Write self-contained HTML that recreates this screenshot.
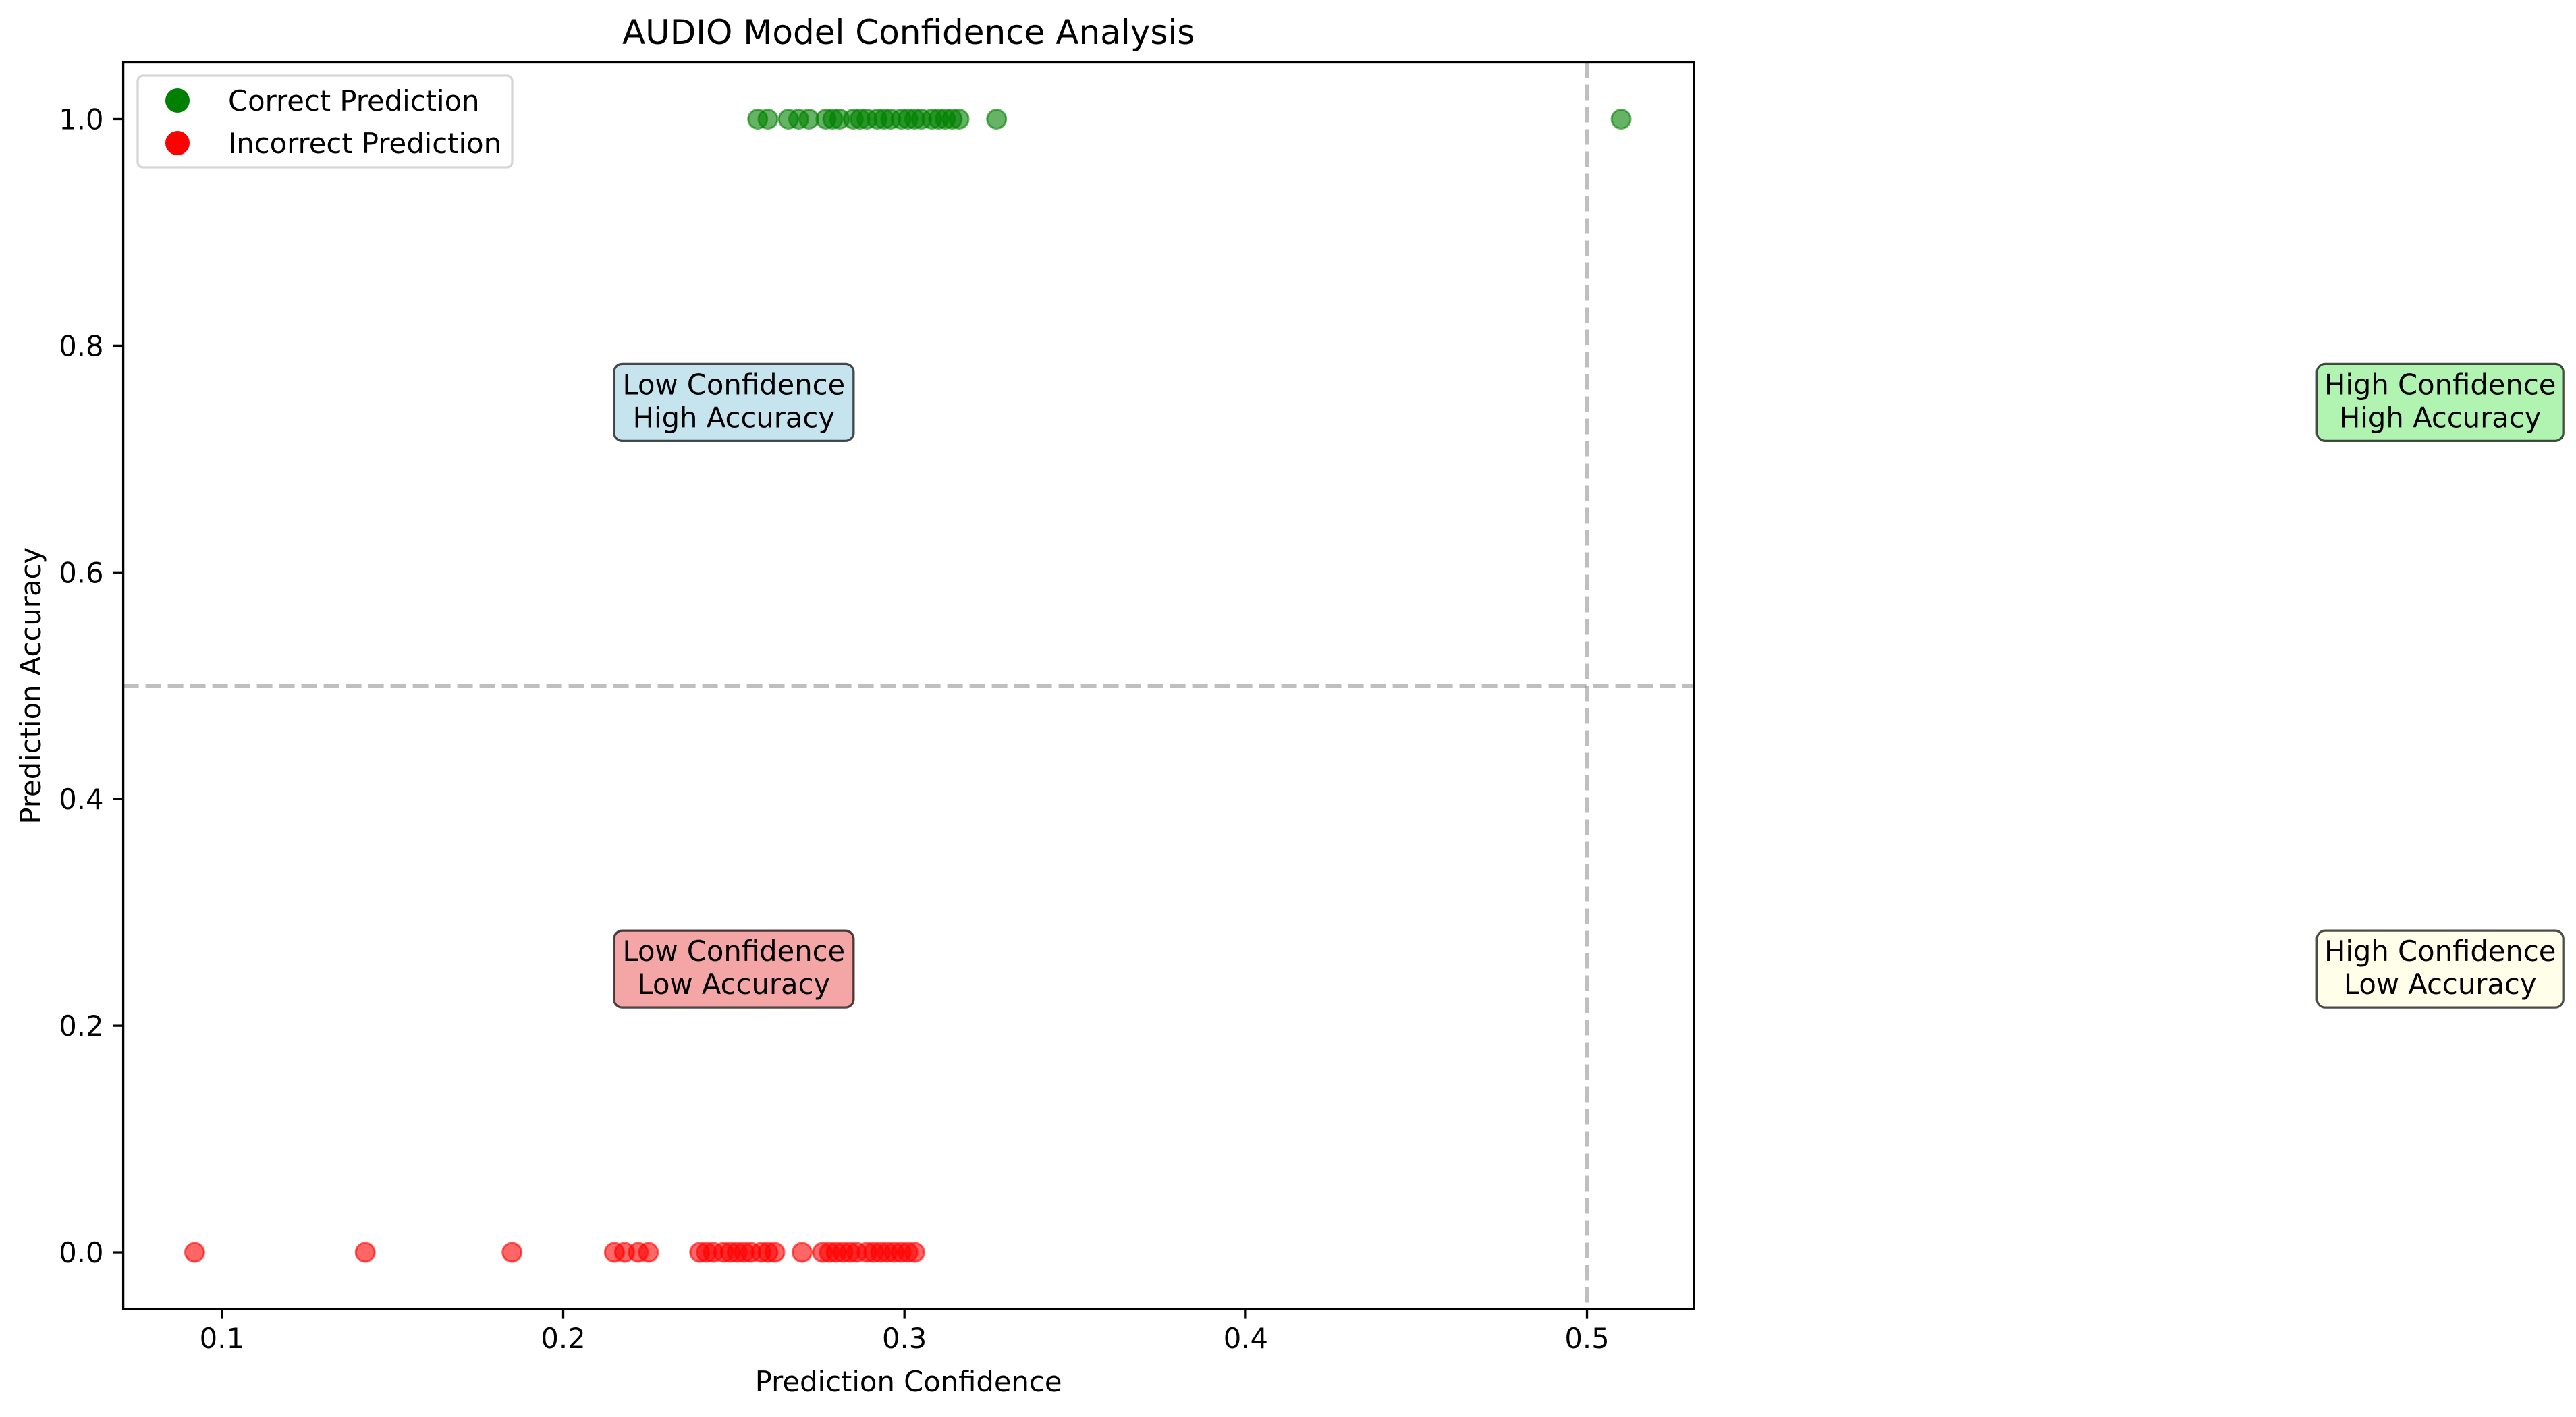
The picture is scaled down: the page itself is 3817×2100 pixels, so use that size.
<!DOCTYPE html>
<html><head><meta charset="utf-8"><style>
html,body{margin:0;padding:0;background:#fff;}
svg{display:block;font-family:"DejaVu Sans","Liberation Sans",sans-serif;}
</style></head><body>
<svg id="chart" width="3817" height="2100" viewBox="0 0 3817 2100" xmlns="http://www.w3.org/2000/svg">
<rect width="3817" height="2100" fill="#fff"/>
<g id="plot"></g>
</svg>
<script>
const correctConf = [0.257,0.260,0.266,0.269,0.272,0.277,0.279,0.281,0.285,0.287,0.289,0.292,0.294,0.296,0.299,0.301,0.303,0.305,0.308,0.310,0.312,0.314,0.316,0.327,0.510];
const incorrectConf = [0.092,0.142,0.185,0.215,0.218,0.222,0.225,0.240,0.242,0.244,0.247,0.249,0.251,0.253,0.255,0.258,0.260,0.262,0.270,0.276,0.278,0.280,0.282,0.284,0.286,0.289,0.291,0.293,0.295,0.297,0.299,0.301,0.303];
const xTicks = [0.1,0.2,0.3,0.4,0.5];
const yTicks = [0.0,0.2,0.4,0.6,0.8,1.0];
const xThreshold = 0.5;
const yThreshold = 0.5;

const NS="http://www.w3.org/2000/svg";
const L=182.6,R=2509.7,T=92.5,B=1940;
const xMin=0.07108,xMax=0.53128,yMin=-0.05,yMax=1.05;
function xs(v){return L+(v-xMin)/(xMax-xMin)*(R-L);}
function ys(v){return B-(v-yMin)/(yMax-yMin)*(B-T);}
const g=document.getElementById('plot');
function mk(tag,attrs,parent){const e=document.createElementNS(NS,tag);for(const k in attrs)e.setAttribute(k,attrs[k]);(parent||g).appendChild(e);return e;}

let vl=mk('line',{x1:xs(xThreshold),x2:xs(xThreshold),y1:T,y2:B,stroke:'#808080','stroke-opacity':0.5,'stroke-width':6,'stroke-dasharray':'23 10'});


let hl=mk('line',{x1:L,x2:R,y1:ys(yThreshold),y2:ys(yThreshold),stroke:'#808080','stroke-opacity':0.5,'stroke-width':6,'stroke-dasharray':'23 10'});



correctConf.forEach(v=>{
  const c=mk('circle',{cx:xs(v),cy:ys(1),r:14,fill:'rgba(0,128,0,0.6)',stroke:'rgba(0,128,0,0.6)','stroke-width':3});
  
  
});
incorrectConf.forEach(v=>{
  const c=mk('circle',{cx:xs(v),cy:ys(0),r:14,fill:'rgba(255,0,0,0.6)',stroke:'rgba(255,0,0,0.6)','stroke-width':3});
  
  
});

const sp=mk('rect',{x:L,y:T,width:R-L,height:B-T,fill:'none',stroke:'#000','stroke-width':3.3});



xTicks.forEach(v=>{
  const x=xs(v);
  const t=mk('line',{x1:x,x2:x,y1:B,y2:B+14.6,stroke:'#000','stroke-width':3.3});
  
  
  const tx=mk('text',{x:x,y:B+58,'font-size':41.7,'text-anchor':'middle',fill:'#000'});
  tx.textContent=v.toFixed(1);
  
  
});
yTicks.forEach(v=>{
  const y=ys(v);
  const t=mk('line',{x1:L-14.6,x2:L,y1:y,y2:y,stroke:'#000','stroke-width':3.3});
  
  
  const tx=mk('text',{x:L-29,y:y+15,'font-size':41.7,'text-anchor':'end',fill:'#000'});
  tx.textContent=v.toFixed(1);
  
  
});

let t1=mk('text',{x:(L+R)/2,y:65,'font-size':50,'text-anchor':'middle'});t1.textContent='AUDIO Model Confidence Analysis';


let t2=mk('text',{x:(L+R)/2,y:2062,'font-size':41.7,'text-anchor':'middle'});t2.textContent='Prediction Confidence';


let t3=mk('text',{x:0,y:0,'font-size':41.7,'text-anchor':'middle',transform:`translate(60,${(T+B)/2}) rotate(-90)`});t3.textContent='Prediction Accuracy';



const boxes=[
 {x:0.25,y:0.75,l1:'Low Confidence',l2:'High Accuracy',fill:'rgba(173,216,230,0.7)',w:355,name:'low-conf-high-acc-label'},
 {x:0.25,y:0.25,l1:'Low Confidence',l2:'Low Accuracy',fill:'rgba(240,128,128,0.7)',w:355,name:'low-conf-low-acc-label'},
 {x:0.75,y:0.75,l1:'High Confidence',l2:'High Accuracy',fill:'rgba(144,238,144,0.7)',w:365,name:'high-conf-high-acc-label'},
 {x:0.75,y:0.25,l1:'High Confidence',l2:'Low Accuracy',fill:'rgba(255,255,224,0.7)',w:365,name:'high-conf-low-acc-label'}
];
boxes.forEach(b=>{
  const cx=xs(b.x),cy=ys(b.y);
  const grp=mk('g',{});
  
  
  mk('rect',{x:cx-b.w/2,y:cy-57,width:b.w,height:114,rx:12,fill:b.fill,stroke:'rgba(0,0,0,0.7)','stroke-width':3.3},grp);
  const a=mk('text',{x:cx,y:cy-12,'font-size':41.7,'text-anchor':'middle'},grp);a.textContent=b.l1;
  const c=mk('text',{x:cx,y:cy+37,'font-size':41.7,'text-anchor':'middle'},grp);c.textContent=b.l2;
});

const lg=mk('g',{});


mk('rect',{x:204,y:112,width:555,height:136,rx:8,fill:'rgba(255,255,255,0.8)',stroke:'#d6d6d6','stroke-width':3.3},lg);
const e1=mk('g',{},lg);


mk('circle',{cx:263,cy:149,r:18,fill:'green'},e1);
let lt1=mk('text',{x:338,y:164,'font-size':41.7},e1);lt1.textContent='Correct Prediction';
const e2=mk('g',{},lg);


mk('circle',{cx:263,cy:212,r:18,fill:'red'},e2);
let lt2=mk('text',{x:338,y:227,'font-size':41.7},e2);lt2.textContent='Incorrect Prediction';
</script>
</body></html>
